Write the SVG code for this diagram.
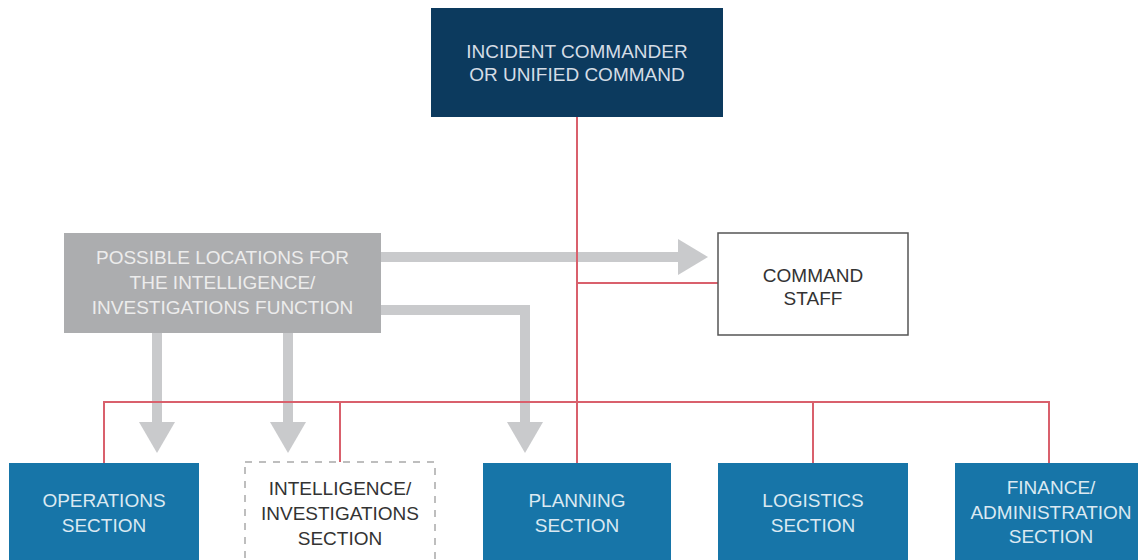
<svg xmlns="http://www.w3.org/2000/svg" width="1138" height="560" viewBox="0 0 1138 560">
<style>
text{font-family:"Liberation Sans",Arial,sans-serif;font-size:19px;text-anchor:middle;dominant-baseline:central}
.sec{fill:#1775a8}
.sect{fill:#dbe9f2}
.red{stroke:#d9606c;stroke-width:2;fill:none}
.gshaft{stroke:#c9cacc;stroke-width:10;fill:none}
.ghead{fill:#c9cacc}
</style>
<rect width="1138" height="560" fill="#ffffff"/>
<g id="connectors">
  <path class="gshaft" d="M381,257 H680"/>
  <polygon class="ghead" points="678,239 708,257 678,275"/>
  <path class="gshaft" d="M381,310 H525 V424"/>
  <polygon class="ghead" points="507,422 525,453 543,422"/>
  <path class="gshaft" d="M157,333 V424"/>
  <polygon class="ghead" points="139,422 157,453 175,422"/>
  <path class="gshaft" d="M288,333 V424"/>
  <polygon class="ghead" points="270,422 288,453 306,422"/>
  <path class="red" d="M577,117 V463"/>
  <path class="red" d="M577,283 H718"/>
  <path class="red" d="M104,463 V402 H1049 V463"/>
  <path class="red" d="M340,402 V463"/>
  <path class="red" d="M813,402 V463"/>
</g>
<g id="incident-commander">
  <rect x="431" y="8" width="292" height="109" fill="#0c3a5e"/>
  <text x="577" y="51" fill="#d5dde6">INCIDENT COMMANDER</text>
  <text x="577" y="74" fill="#d5dde6">OR UNIFIED COMMAND</text>
</g>
<g id="possible-locations">
  <rect x="64" y="233" width="317" height="100" fill="#acadaf"/>
  <text x="222.5" y="257" fill="#ececec">POSSIBLE LOCATIONS FOR</text>
  <text x="222.5" y="282" fill="#ececec">THE INTELLIGENCE/</text>
  <text x="222.5" y="307" fill="#ececec">INVESTIGATIONS FUNCTION</text>
</g>
<g id="command-staff">
  <rect x="718" y="233" width="190" height="102" fill="#ffffff" stroke="#555555" stroke-width="1.5"/>
  <text x="813" y="275" fill="#333333">COMMAND</text>
  <text x="813" y="298" fill="#333333">STAFF</text>
</g>
<g id="operations">
  <rect class="sec" x="9" y="463" width="190" height="110"/>
  <text class="sect" x="104" y="500">OPERATIONS</text>
  <text class="sect" x="104" y="525">SECTION</text>
</g>
<g id="intelligence">
  <rect x="245" y="462" width="190" height="110" fill="#ffffff" stroke="#a9a9a9" stroke-width="1.5" stroke-dasharray="7,7"/>
  <text x="340" y="488" fill="#333333">INTELLIGENCE/</text>
  <text x="340" y="513" fill="#333333">INVESTIGATIONS</text>
  <text x="340" y="538" fill="#333333">SECTION</text>
</g>
<g id="planning">
  <rect class="sec" x="483" y="463" width="188" height="110"/>
  <text class="sect" x="577" y="500">PLANNING</text>
  <text class="sect" x="577" y="525">SECTION</text>
</g>
<g id="logistics">
  <rect class="sec" x="718" y="463" width="190" height="110"/>
  <text class="sect" x="813" y="500">LOGISTICS</text>
  <text class="sect" x="813" y="525">SECTION</text>
</g>
<g id="finance">
  <rect class="sec" x="955" y="463" width="190" height="110"/>
  <text class="sect" x="1051" y="487">FINANCE/</text>
  <text class="sect" x="1051" y="512">ADMINISTRATION</text>
  <text class="sect" x="1051" y="536">SECTION</text>
</g>
</svg>
